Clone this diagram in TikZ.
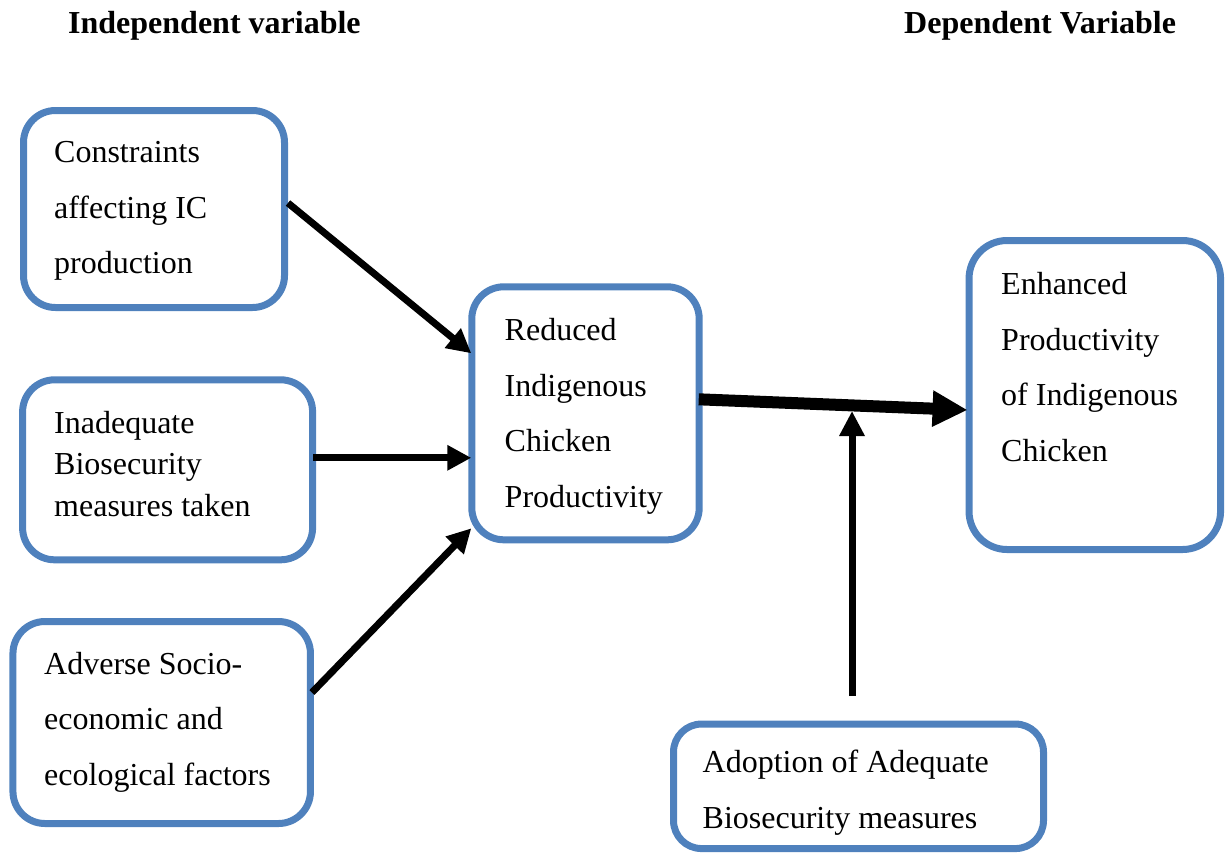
\documentclass[tikz,border=0pt]{standalone}
\usepackage{fontspec}
\setmainfont{Liberation Serif}
\usetikzlibrary{arrows.meta,calc}
\definecolor{boxblue}{HTML}{4F81BD}
\begin{document}
\begin{tikzpicture}[x=1pt,y=-1pt,
  box/.style={draw=boxblue, line width=7pt, rounded corners=32pt, rectangle, inner sep=0pt},
  txt/.style={anchor=north west, inner sep=0pt, align=left, font={\fontsize{32}{55.5}\selectfont}},
  hdr/.style={anchor=base west, inner sep=0pt, font={\fontsize{32}{38}\selectfont\bfseries}},
  conn/.style={line width=7pt, -{Triangle[length=24pt,width=24pt]}},
  thickconn/.style={line width=12pt, -{Triangle[length=35pt,width=34pt]}},
]
\useasboundingbox (0,0) rectangle (1225,852);

% headers
\node[hdr] (h1) at (68,33.5) {Independent variable};
\node[hdr] (h2) at (904,33.5) {Dependent Variable};

% boxes
\node[box, minimum width=261pt, minimum height=197pt] (b1) at (154,209) {};
\node[box, minimum width=290pt, minimum height=180pt] (b2) at (167.6,469.8) {};
\node[box, minimum width=297.5pt, minimum height=202pt] (b3) at (161.7,722.5) {};
\node[box, minimum width=227.4pt, minimum height=253pt] (b4) at (585.5,413.3) {};
\node[box, minimum width=251.5pt, minimum height=309pt, rounded corners=38pt] (b5) at (1094.8,395) {};
\node[box, minimum width=370pt, minimum height=124.5pt, rounded corners=28pt] (b6) at (858.5,786.3) {};

% texts
\node[txt] (t1) at (54,132.5) {\rule{0pt}{30pt}Constraints\\affecting IC\\production};
\node[txt, font={\fontsize{32}{41.5}\selectfont}] (t2) at (54,403) {\rule{0pt}{30pt}Inadequate\\Biosecurity\\measures taken};
\node[txt] (t3) at (44,644) {\rule{0pt}{30pt}Adverse Socio-\\economic and\\ecological factors};
\node[txt] (t4) at (504.5,310.3) {\rule{0pt}{30pt}Reduced\\Indigenous\\Chicken\\Productivity};
\node[txt] (t5) at (1001,264.7) {\rule{0pt}{30pt}Enhanced\\Productivity\\of Indigenous\\Chicken};
\node[txt, font={\fontsize{32}{56}\selectfont}] (t6) at (702.5,742.7) {\rule{0pt}{30pt}Adoption of Adequate\\Biosecurity measures};

% connectors
\coordinate (a2s) at ([xshift=-3pt,yshift=12pt]b2.east);
\draw[conn] ([yshift=6pt]b1.east) -- ([xshift=3pt,yshift=60pt]b4.west);
\draw[conn] (a2s) -- ($(b4.west |- a2s)+(3,0)$);
\draw[conn] ([xshift=-2pt,yshift=30pt]b3.east) -- ([xshift=3pt,yshift=-115pt]b4.west);
\draw[thickconn] ([xshift=-4pt,yshift=14pt]b4.east) -- ([xshift=2pt,yshift=-15pt]b5.west);
\coordinate (ms) at (852,696);
\coordinate (mt) at (852,411);
\draw[line width=7pt, -{Triangle[length=25pt,width=24pt]}] (ms) -- (mt);
\end{tikzpicture}
\end{document}
